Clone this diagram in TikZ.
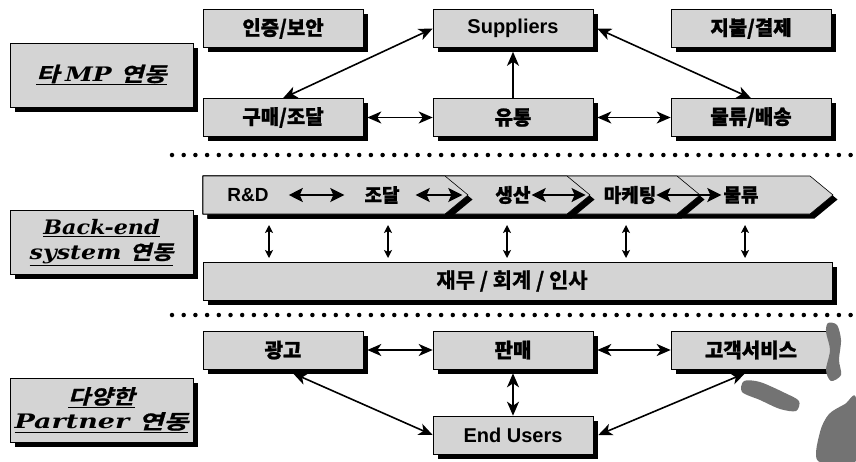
\documentclass[tikz,border=0pt]{standalone}
\usepackage{fontspec}
\setmainfont{Liberation Sans}
\newfontfamily\kr{Noto Sans CJK KR Bold}[FakeBold=1.2]
\newfontfamily\krsl{Noto Sans CJK KR Bold}[FakeSlant=0.22,FakeBold=1]
\newfontfamily\lat{DejaVu Serif Bold Italic}
\usetikzlibrary{arrows.meta,shadows}
\begin{document}
\begin{tikzpicture}[x=1pt,y=-1pt,
  shadowed/.style={drop shadow={shadow xshift=4.5pt,shadow yshift=-4.5pt,fill=black,opacity=1}},
  box/.style={draw=black,line width=0.6pt,fill=black!17,minimum width=160pt,minimum height=38pt,
    inner sep=0pt,font=\bfseries\fontsize{20}{24}\selectfont,shadowed},
  lbl/.style={draw=black,line width=0.6pt,fill=black!17,minimum width=183pt,minimum height=64pt,
    inner sep=0pt,align=center,font=\fontsize{19}{22}\selectfont,shadowed},
  bandtxt/.style={inner sep=0pt,font=\bfseries\fontsize{19}{22}\selectfont},
  conn/.style={{Stealth[length=14pt,width=12pt,inset=4pt]}-{Stealth[length=14pt,width=12pt,inset=4pt]},line width=1.6pt},
  one/.style={-{Stealth[length=14pt,width=12pt,inset=4pt]},line width=1.6pt},
  bigconn/.style={{Stealth[length=14pt,width=14pt,inset=3pt]}-{Stealth[length=14pt,width=14pt,inset=3pt]},line width=2pt},
  vconn/.style={{Stealth[length=8pt,width=8pt,inset=2pt]}-{Stealth[length=8pt,width=8pt,inset=2pt]},line width=1.2pt},
  dots/.style={line width=4.5pt,dash pattern=on 0pt off 11.7pt,line cap=round},
  blob/.style={fill=black!55}
]
\useasboundingbox (0,0) rectangle (856,461);

% separators
\coordinate (s1a) at (172,155); \coordinate (s1b) at (856,155);
\coordinate (s2a) at (172,315); \coordinate (s2b) at (856,315);
\draw[dots] (s1a) -- (s1b);
\draw[dots] (s2a) -- (s2b);

% left labels
\node[lbl] (l1) at (101.5,75) {\scalebox{1.32}[1.05]{\underline{\krsl 타 \lat MP \krsl 연동}}};
\node[lbl] (l2) at (101.5,242.5) {\scalebox{1.17}[1.05]{\underline{\lat Back-end}}\\[3pt]\scalebox{1.25}[1.05]{\underline{\lat system \krsl 연동}}};
\node[lbl] (l3) at (101.5,410) {\scalebox{1.27}[1.05]{\underline{\krsl 다양한}}\\[3pt]\scalebox{1.42}[1.05]{\underline{\lat Partner \krsl 연동}}};

% top row
\node[box] (auth) at (283,28.5) {\kr 인증/보안};
\node[box] (sup)  at (513,28.5) {Suppliers};
\node[box] (pay)  at (751,28.5) {\kr 지불/결제};
\node[box] (buy)  at (283,117.5) {\kr 구매/조달};
\node[box] (dist) at (513,117.5) {\kr 유통};
\node[box] (logi) at (751,117.5) {\kr 물류/배송};

\draw[conn] (buy.north) -- (sup.west);
\draw[conn] ([xshift=4pt]sup.east) -- (logi.north);
\draw[one] (dist.north) -- ([yshift=-4pt]sup.south);
\draw[conn] ([xshift=4pt]buy.east) -- (dist.west);
\draw[conn] ([xshift=4pt]dist.east) -- (logi.west);

% back-end band (chevrons)
\foreach \tip in {833,700,590,468}{
  \fill[black,shift={(4.5,4.5)}] (203,176) -- ({\tip-23},176) -- (\tip,195) -- ({\tip-23},214) -- (203,214) -- cycle;
  \filldraw[fill=black!17,draw=black,line width=0.6pt] (203,176) -- ({\tip-23},176) -- (\tip,195) -- ({\tip-23},214) -- (203,214) -- cycle;
}
\node[bandtxt] (rd) at (248,195) {R\&D};
\node[bandtxt] (jd) at (382,195) {\kr 조달};
\node[bandtxt] (ss) at (513,195) {\kr 생산};
\node[bandtxt] (mk) at (630,195) {\kr 마케팅};
\node[bandtxt] (ml) at (741,195) {\kr 물류};
\draw[bigconn,shorten <=20pt,shorten >=20pt] (rd) -- (jd);
\draw[bigconn,shorten <=16pt,shorten >=33pt] (jd) -- (ss);
\draw[bigconn,shorten <=1pt,shorten >=18pt] (ss) -- (mk);
\draw[bigconn,shorten <=0pt,shorten >=2pt] (mk) -- (ml);

\node[box,minimum width=629pt,minimum height=38pt] (fin) at (517.5,281) {};
\node[bandtxt,font=\kr\fontsize{21}{24}\selectfont] (fintxt) at (512,281) {재무 / 회계 / 인사};

\foreach \i/\x in {1/269,2/388,3/507,4/626,5/745}{
  \coordinate (u\i) at (\x,225);
  \coordinate (d\i) at (\x,258);
  \draw[vconn] (u\i) -- (d\i);
}

% bottom row
\node[box] (ad)   at (283,350) {\kr 광고};
\node[box] (sale) at (513,350) {\kr 판매};
\node[box] (cs)   at (751,350) {\kr 고객서비스};
\node[box] (eu)   at (513,435) {End Users};

\draw[conn] ([xshift=4pt]ad.east) -- (sale.west);
\draw[conn] ([xshift=4pt]sale.east) -- (cs.west);
\draw[conn] ([yshift=-4pt]sale.south) -- (eu.north);
\draw[conn] ([xshift=10pt,yshift=-4pt]ad.south) -- (eu.west);
\draw[conn] ([xshift=-6pt,yshift=-4pt]cs.south) -- ([xshift=5pt]eu.east);

% scan blobs
\fill[blob] plot[smooth cycle] coordinates {(828,323) (837,325) (841,340) (839,360) (841,375) (831,381) (826,370) (830,350) (826,332)};
\fill[blob] plot[smooth cycle] coordinates {(744,381) (760,382) (785,393) (799,401) (796,411) (780,409) (760,400) (742,392)};
\fill[blob] plot[smooth cycle] coordinates {(818,461) (820,432) (829,414) (845,404) (856,398) (856,461)};
\end{tikzpicture}
\end{document}
